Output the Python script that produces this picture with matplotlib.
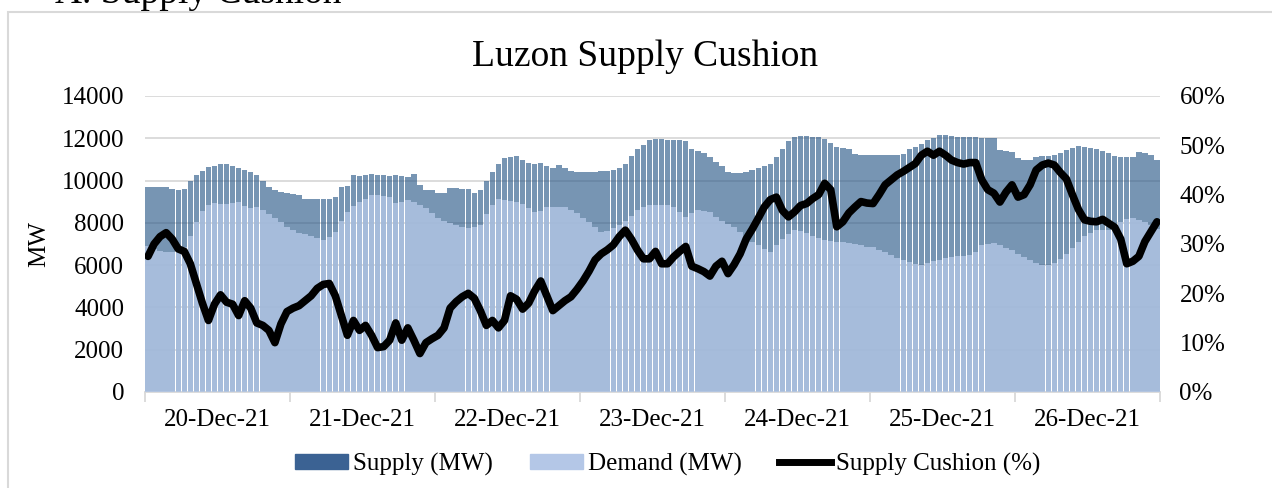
import matplotlib.pyplot as plt
import matplotlib.patches as mpatches
import matplotlib.lines as mlines
from matplotlib.ticker import FuncFormatter
import numpy as np

# ==========================================
# DATA (hourly, 20-Dec-21 00:00 .. 26-Dec-21 23:00)
# ==========================================

days = ["20-Dec-21", "21-Dec-21", "22-Dec-21", "23-Dec-21",
        "24-Dec-21", "25-Dec-21", "26-Dec-21"]

supply_mw = [
    9700, 9700, 9680, 9680, 9600, 9550, 9600, 10000, 10250, 10450, 10650, 10700,
    10800, 10800, 10700, 10600, 10500, 10400, 10250, 10000, 9700, 9550, 9480, 9400,
    9350, 9320, 9150, 9150, 9150, 9150, 9150, 9200, 9700, 9720, 10250, 10200,
    10250, 10300, 10250, 10250, 10200, 10250, 10200, 10150, 10300, 9800, 9550, 9550,
    9400, 9400, 9650, 9650, 9600, 9600, 9400, 9550, 10000, 10400, 10800, 11050,
    11100, 11150, 10950, 10850, 10800, 10850, 10700, 10600, 10750, 10600, 10450, 10400,
    10400, 10420, 10400, 10430, 10450, 10500, 10600, 10800, 11150, 11500, 11700, 11900,
    11950, 11950, 11900, 11900, 11900, 11850, 11500, 11400, 11300, 11100, 10900, 10700,
    10400, 10380, 10350, 10400, 10500, 10600, 10700, 10800, 11100, 11500, 11850, 12080,
    12100, 12100, 12080, 12050, 11950, 11800, 11600, 11550, 11500, 11250, 11200, 11200,
    11200, 11200, 11200, 11200, 11200, 11250, 11500, 11600, 11750, 11900, 12000, 12150,
    12150, 12100, 12080, 12050, 12050, 12050, 12030, 12010, 12000, 11450, 11400, 11350,
    11050, 10950, 10980, 11100, 11150, 11150, 11200, 11300, 11450, 11550, 11620, 11600,
    11550, 11500, 11400, 11300, 11150, 11100, 11100, 11100, 11350, 11300, 11200, 10950,
]

demand_mw = [
    6900, 6750, 6650, 6640, 6640, 6700, 6850, 7400, 8050, 8550, 8850, 8920,
    8870, 8880, 8950, 8980, 8800, 8700, 8770, 8600, 8420, 8250, 8050, 7820,
    7650, 7530, 7450, 7380, 7300, 7200, 7330, 7550, 8100, 8500, 8800, 9000,
    9150, 9300, 9320, 9270, 9200, 8950, 8980, 9060, 9000, 8850, 8700, 8450,
    8250, 8100, 7990, 7900, 7820, 7760, 7800, 7880, 8400, 8850, 9150, 9100,
    9030, 8980, 8870, 8700, 8500, 8550, 8750, 8770, 8770, 8760, 8620, 8460,
    8230, 8020, 7800, 7580, 7600, 7750, 7880, 8100, 8330, 8600, 8750, 8830,
    8850, 8850, 8850, 8750, 8500, 8280, 8450, 8600, 8550, 8500, 8300, 8100,
    7950, 7800, 7550, 7300, 7100, 6930, 6750, 6600, 6950, 7250, 7480, 7660,
    7600, 7530, 7400, 7280, 7180, 7150, 7110, 7080, 7050, 7000, 6950, 6880,
    6850, 6730, 6600, 6480, 6350, 6240, 6150, 6070, 6020, 6100, 6200, 6260,
    6330, 6400, 6420, 6450, 6470, 6600, 6950, 7000, 7050, 6950, 6830, 6700,
    6550, 6390, 6250, 6100, 6010, 6020, 6120, 6300, 6550, 6800, 7100, 7380,
    7520, 7650, 7660, 7660, 7800, 8050, 8170, 8230, 8150, 8050, 7900, 7700,
]

cushion_pct = [
    27.5, 30.0, 31.5, 32.3, 31.0, 29.0, 28.5, 26.0, 22.0, 18.0, 14.5, 17.8,
    19.7, 18.2, 17.8, 15.5, 18.5, 17.0, 14.0, 13.5, 12.5, 10.0, 13.8, 16.3,
    17.0, 17.5, 18.5, 19.5, 21.0, 21.8, 22.0, 19.5, 15.5, 11.5, 14.5, 12.5,
    13.5, 11.5, 9.0, 9.2, 10.5, 14.0, 10.5, 13.0, 10.5, 7.8, 10.0, 10.8,
    11.5, 13.0, 17.0, 18.3, 19.3, 20.0, 19.0, 16.5, 13.5, 14.5, 13.0, 14.5,
    19.5, 18.8, 16.8, 18.0, 20.5, 22.5, 19.5, 16.5, 17.5, 18.5, 19.3, 20.8,
    22.5, 24.5, 26.8, 28.0, 28.8, 29.8, 31.5, 32.8, 31.0, 28.8, 27.0, 27.0,
    28.5, 26.0, 26.0, 27.4, 28.5, 29.5, 25.5, 25.0, 24.4, 23.5, 25.5, 26.5,
    24.0, 25.8, 28.0, 31.0, 33.0, 35.2, 37.5, 39.0, 39.5, 36.8, 35.5, 36.5,
    37.8, 38.2, 39.2, 40.0, 42.3, 41.0, 33.5, 34.5, 36.3, 37.5, 38.6, 38.3,
    38.2, 40.0, 42.0, 43.0, 44.0, 44.7, 45.5, 46.3, 48.0, 48.8, 48.0, 48.8,
    48.0, 47.0, 46.5, 46.2, 46.5, 46.5, 43.0, 41.0, 40.3, 38.5, 40.5, 42.0,
    39.5, 40.0, 42.0, 45.0, 46.0, 46.4, 46.0, 44.5, 43.2, 40.0, 37.0, 34.9,
    34.6, 34.5, 35.0, 34.2, 33.4, 31.0, 26.0, 26.5, 27.5, 30.5, 32.5, 34.5,
]

# ==========================================
# PLOT
# ==========================================

plt.rcParams["font.family"] = ["Liberation Serif", "DejaVu Serif"]
FS = 18

hours = np.arange(len(supply_mw)) + 0.5

fig = plt.figure(figsize=(12.72, 4.88), dpi=100)
ax = fig.add_axes([145 / 1272, 1 - 392 / 488, 1015 / 1272, 296 / 488])

ax.bar(hours, supply_mw, width=0.9, color="#2E5C8A", alpha=0.65,
       linewidth=0, zorder=2)
ax.bar(hours, demand_mw, width=0.9, color="#AFC3E3", alpha=0.85,
       linewidth=0, zorder=3)

ax.set_xlim(0, len(supply_mw))
ax.set_ylim(0, 14000)
ax.set_yticks(np.arange(0, 14001, 2000))
ax.grid(axis="y", color="#D9D9D9", linewidth=1.3, zorder=0)
ax.set_axisbelow(True)
ax.set_ylabel("MW", fontsize=FS, labelpad=8)

ax.set_xticks(np.arange(0, 169, 24))
ax.set_xticklabels([])
ax.set_xticks(np.arange(12, 168, 24), minor=True)
ax.set_xticklabels(days, minor=True, fontsize=FS)
ax.tick_params(axis="x", which="major", length=7, color="#D9D9D9", width=1.3)
ax.tick_params(axis="x", which="minor", length=0, pad=12)
ax.tick_params(axis="y", length=0, labelsize=FS, pad=15)

for s in ["top", "left", "right"]:
    ax.spines[s].set_visible(False)
ax.spines["bottom"].set_color("#D9D9D9")
ax.spines["bottom"].set_linewidth(1.3)

ax2 = ax.twinx()
ax2.plot(hours, cushion_pct, color="black", linewidth=5.5,
         solid_joinstyle="round", solid_capstyle="round", zorder=5)
ax2.set_ylim(0, 60)
ax2.set_yticks(np.arange(0, 61, 10))
ax2.yaxis.set_major_formatter(FuncFormatter(lambda v, p: f"{v:.0f}%"))
ax2.tick_params(axis="y", length=0, labelsize=FS, pad=14)
for s in ["top", "left", "right", "bottom"]:
    ax2.spines[s].set_visible(False)

fig.text(645 / 1272, 1 - 57 / 488, "Luzon Supply Cushion", fontsize=27,
         ha="center", va="center")

# section heading cut off at the top of the picture
fig.text(55 / 1272, 1 - 3 / 488, "A. Supply Cushion", fontsize=27,
         ha="left", va="baseline")

# chart frame
fig.patches.append(mpatches.Rectangle((8 / 1272, -0.1), 1.2, 1 - 12 / 488 + 0.1,
                                      transform=fig.transFigure, fill=False,
                                      edgecolor="#D9D9D9", linewidth=1.5))

handles = [
    mpatches.Patch(color="#3B6293", label="Supply (MW)"),
    mpatches.Patch(color="#B4C7E7", label="Demand (MW)"),
    mlines.Line2D([], [], color="black", linewidth=5, label="Supply Cushion (%)"),
]
fig.legend(handles=handles, loc="center", bbox_to_anchor=(668 / 1272, 1 - 464 / 488),
           ncol=3, frameon=False, fontsize=FS, handlelength=2.1,
           handletextpad=0.2, columnspacing=1.5, handleheight=0.55)

fig.savefig("out.png", dpi=100)
